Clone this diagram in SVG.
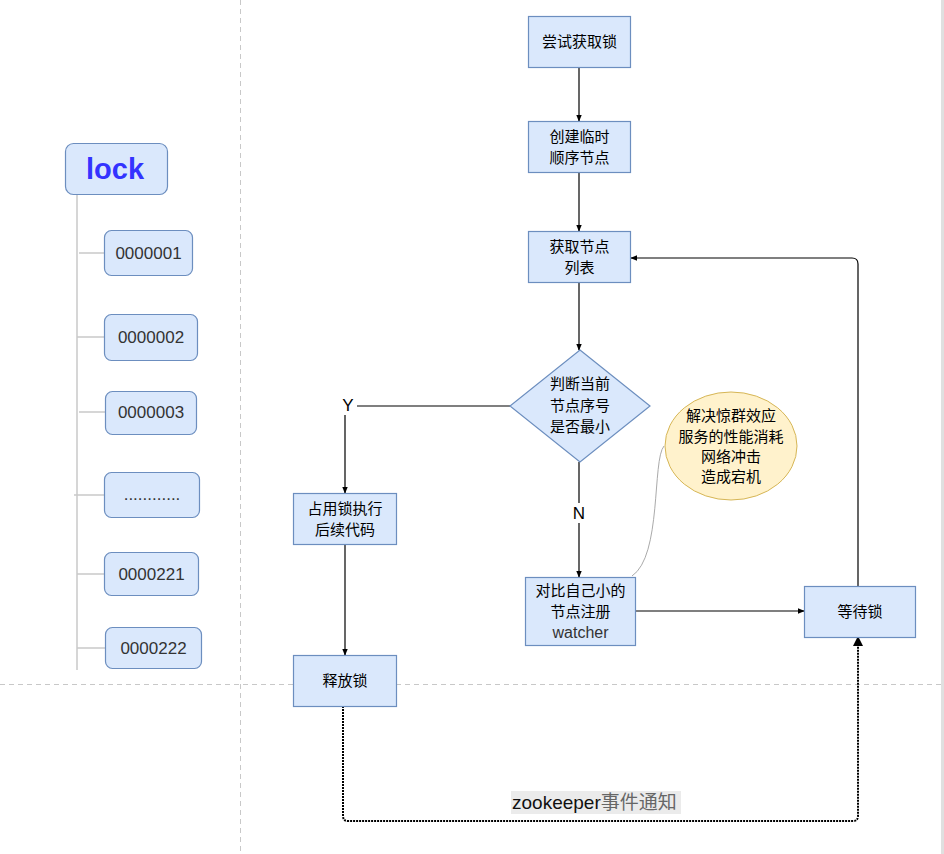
<svg xmlns="http://www.w3.org/2000/svg" width="944" height="854" viewBox="0 0 944 854">
<defs>
<marker id="arr" viewBox="0 0 10 10" refX="9" refY="5" markerWidth="7" markerHeight="7" orient="auto" markerUnits="userSpaceOnUse"><path d="M0,1 L10,5 L0,9 Z" fill="#000"/></marker>
<marker id="arrB" viewBox="0 0 10 10" refX="9" refY="5" markerWidth="10" markerHeight="10" orient="auto" markerUnits="userSpaceOnUse"><path d="M0,0 L10,5 L0,10 Z" fill="#000"/></marker>
</defs>
<style>
.box{fill:#dae8fc;stroke:#6c8ebf;stroke-width:1.2}
.t{font-family:"Noto Sans CJK SC","Liberation Sans",sans-serif;font-size:15px;fill:#000;text-anchor:middle}
.n{font-family:"Liberation Sans",Arial,sans-serif;font-size:17px;fill:#333;text-anchor:middle}
.c{fill:none;stroke:#000;stroke-width:1.2}
.tree{fill:none;stroke:#c8c8c8;stroke-width:1.5}
.grid{fill:none;stroke:#c8c8c8;stroke-width:1;stroke-dasharray:5 4}
</style>
<rect width="944" height="854" fill="#fff"/>
<rect x="941" y="0" width="3" height="854" fill="#e0e0e0"/>
<g id="grid">
<line class="grid" x1="240.5" y1="0" x2="240.5" y2="854"/>
<line class="grid" x1="0" y1="684.5" x2="944" y2="684.5"/>
</g>
<g id="tree-lines">
<line class="tree" x1="77" y1="194" x2="77" y2="670"/>
<line class="tree" x1="79" y1="253" x2="104" y2="253"/>
<line class="tree" x1="77" y1="337" x2="104" y2="337"/>
<line class="tree" x1="79" y1="412" x2="105" y2="412"/>
<line class="tree" x1="74" y1="495" x2="104" y2="495"/>
<line class="tree" x1="77" y1="574" x2="104" y2="574"/>
<line class="tree" x1="77" y1="648" x2="105" y2="648"/>
</g>
<g id="lock"><rect class="box" x="65.5" y="143.5" width="102" height="51" rx="8"/><text x="115" y="179" font-family="Liberation Sans,Arial,sans-serif" font-size="29" font-weight="bold" fill="#3333ff" text-anchor="middle">lock</text></g>
<g id="n1"><rect class="box" x="104.5" y="230.5" width="88" height="45" rx="7"/><text class="n" x="148.5" y="259">0000001</text></g>
<g id="n2"><rect class="box" x="104.5" y="314.5" width="93" height="46" rx="7"/><text class="n" x="151" y="343">0000002</text></g>
<g id="n3"><rect class="box" x="105.5" y="391.5" width="91" height="43" rx="7"/><text class="n" x="151" y="418">0000003</text></g>
<g id="ndots"><rect class="box" x="104.5" y="472.5" width="95" height="45" rx="7"/><text class="n" x="152" y="500" font-size="13">............</text></g>
<g id="n221"><rect class="box" x="104.5" y="552.5" width="94" height="43" rx="7"/><text class="n" x="151.5" y="580">0000221</text></g>
<g id="n222"><rect class="box" x="105.5" y="627.5" width="96" height="41" rx="7"/><text class="n" x="153.5" y="654">0000222</text></g>

<g id="connectors">
<line class="c" x1="579" y1="67" x2="579" y2="121" marker-end="url(#arr)"/>
<line class="c" x1="579" y1="172" x2="579" y2="231" marker-end="url(#arr)"/>
<line class="c" x1="579" y1="282" x2="579" y2="350" marker-end="url(#arr)"/>
<path class="c" d="M510,406 L345,406 L345,493" marker-end="url(#arr)"/>
<path class="c" d="M579,462 L579,577" marker-end="url(#arr)"/>
<path class="c" d="M635,611 L804,611" marker-end="url(#arr)"/>
<path class="c" d="M858,586 L858,264 Q858,258 852,258 L631,258" marker-end="url(#arr)"/>
<line class="c" x1="345" y1="544" x2="345" y2="655" marker-end="url(#arr)"/>
<path d="M343,706 L343,816 Q343,821 348,821 L853,821 Q858,821 858,816 L858,637" fill="none" stroke="#000" stroke-width="2" stroke-dasharray="2 1" marker-end="url(#arrB)"/>
<path d="M632,576 C662,556 652,460 664,446" fill="none" stroke="#aaa" stroke-width="1"/>
<rect x="339" y="395" width="18" height="20" fill="#fff"/>
<text class="n" x="348" y="411" style="fill:#000">Y</text>
<rect x="571" y="503" width="16" height="20" fill="#fff"/>
<text class="n" x="579" y="519" style="fill:#000">N</text>
<rect x="511" y="791" width="170" height="23" fill="#ebebeb"/>
<text x="512" y="809" font-family="Liberation Sans,Arial,sans-serif" font-size="19"><tspan fill="#111">zookeeper</tspan><tspan fill="#666" font-family="Noto Sans CJK SC,sans-serif">事件通知</tspan></text>
</g>

<g id="try"><rect class="box" x="528.5" y="16.5" width="102" height="51"/><text class="t" x="579.5" y="47">尝试获取锁</text></g>
<g id="create"><rect class="box" x="528.5" y="121.5" width="102" height="51"/><text class="t" x="579.5" y="142">创建临时</text><text class="t" x="579.5" y="163">顺序节点</text></g>
<g id="list"><rect class="box" x="528.5" y="231.5" width="102" height="51"/><text class="t" x="579.5" y="252">获取节点</text><text class="t" x="579.5" y="273">列表</text></g>
<g id="judge"><path class="box" d="M580,350 L650,406 L580,462 L510,406 Z"/><text class="t" x="580" y="389" font-size="16">判断当前</text><text class="t" x="580" y="411" font-size="16">节点序号</text><text class="t" x="580" y="432" font-size="16">是否最小</text></g>
<g id="occupy"><rect class="box" x="293.5" y="493.5" width="103" height="51"/><text class="t" x="345" y="514">占用锁执行</text><text class="t" x="345" y="535">后续代码</text></g>
<g id="release"><rect class="box" x="293.5" y="655.5" width="103" height="51"/><text class="t" x="345" y="686">释放锁</text></g>
<g id="watch"><rect class="box" x="525.5" y="577.5" width="110" height="68"/><text class="t" x="580.5" y="596" font-size="16">对比自己小的</text><text class="t" x="580.5" y="617" font-size="16">节点注册</text><text class="n" x="580.5" y="638" style="fill:#333;font-size:16px">watcher</text></g>
<g id="wait"><rect class="box" x="804.5" y="586.5" width="111" height="51"/><text class="t" x="860" y="617">等待锁</text></g>
<g id="note"><ellipse cx="731" cy="446" rx="66" ry="54" fill="#fff2cc" stroke="#d6b656" stroke-width="1"/><text class="t" x="731" y="421" font-size="14">解决惊群效应</text><text class="t" x="731" y="442" font-size="14">服务的性能消耗</text><text class="t" x="731" y="462" font-size="14">网络冲击</text><text class="t" x="731" y="482" font-size="14">造成宕机</text></g>
</svg>
